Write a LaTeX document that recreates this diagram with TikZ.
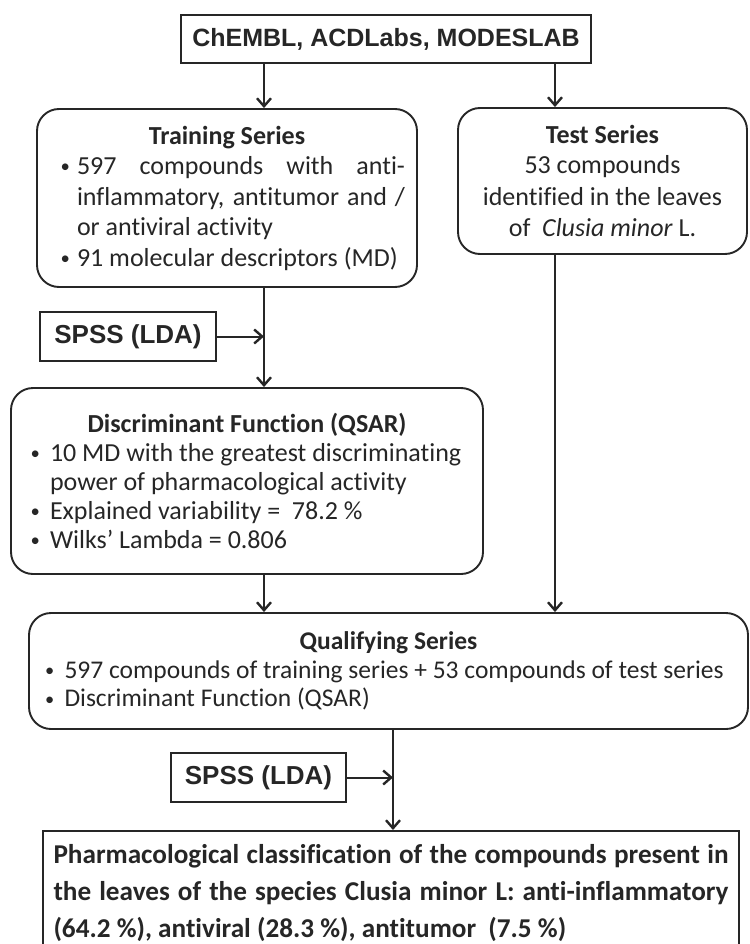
\documentclass[tikz,border=0pt]{standalone}
\usepackage{fontspec}
\usepackage{graphicx}
\setmainfont{Carlito}[Ligatures={NoCommon}]
\newfontfamily\headfont{Liberation Sans}
\usetikzlibrary{arrows.meta}

% bullet paragraph: optional left skip, hanging indent for wrapped lines
\newlength\bulind
\setlength\bulind{20pt}
\newcommand\smallbullet{\hspace{1.5pt}\raisebox{1.6pt}{\scalebox{0.72}{\textbullet}}}
\newcommand\bul[2][0pt]{\par\leftskip=#1\relax\hangindent=\bulind\hangafter=1
  \noindent\makebox[\bulind][l]{\smallbullet}#2\par}

\tikzset{
  ink/.style={draw=black!85, line width=1.9pt},
  sqbox/.style={ink, rectangle, inner sep=0pt, text=black!85},
  rbox/.style={ink, rectangle, rounded corners=22pt, inner sep=0pt, text=black!85},
  head/.style={font=\headfont\bfseries\fontsize{25}{28}\selectfont},
  arr/.style={black!85, line width=2pt, -{Straight Barb[length=8pt,width=14pt,line width=2.4pt]}},
}

\begin{document}
\begin{tikzpicture}[x=1pt, y=-1pt]
\useasboundingbox (0,0) rectangle (749,944);
\clip (0,0) rectangle (749,944);

% sources
\node[sqbox, head, minimum width=410pt, minimum height=48pt] (src) at (386,39)
  {ChEMBL, ACDLabs, MODESLAB};

% training series
\node[rbox, font=\fontsize{26}{30.5}\selectfont, minimum width=380pt, minimum height=178pt, text width=356pt, align=justify] (train) at (227,198) {%
  {\centering\bfseries Training Series\par}
  \setlength\bulind{18pt}%
  \bul[10pt]{597 compounds with anti-\linebreak inflammatory, antitumor and /\linebreak or antiviral activity}
  \bul[10pt]{91 molecular descriptors (MD)}};

% test series
\node[rbox, font=\fontsize{26}{31.5}\selectfont, minimum width=289pt, minimum height=146pt, align=center] (test) at (602.5,181)
  {\textbf{Test Series}\\[-1pt]53 compounds\\identified in the leaves\\of~ \textit{Clusia minor} L.};

% first LDA step
\node[sqbox, font=\headfont\bfseries\fontsize{26}{28}\selectfont, minimum width=176pt, minimum height=49pt] (spss1) at (128,336.5) {SPSS (LDA)};

% discriminant function
\node[rbox, font=\fontsize{26}{29}\selectfont, minimum width=472pt, minimum height=186pt, text width=446pt, align=justify] (disc) at (247,481) {%
  {\centering\bfseries Discriminant Function (QSAR)\par}
  \setlength\bulind{21pt}%
  \bul[5pt]{10 MD with the greatest discriminating\newline power of pharmacological activity}
  \bul[5pt]{Explained variability =~ 78.2~\%}
  \bul[5pt]{Wilks{\char"27} Lambda = 0.806}};

% qualifying series
\node[rbox, font=\fontsize{25.5}{28.5}\selectfont, minimum width=719pt, minimum height=116pt, text width=700pt, align=justify] (qual) at (388.5,671) {%
  {\centering\bfseries Qualifying Series\par}
  \setlength\bulind{21pt}%
  \bul[5pt]{597 compounds of training series + 53 compounds of test series}
  \bul[5pt]{Discriminant Function (QSAR)}};

% second LDA step
\node[sqbox, font=\headfont\bfseries\fontsize{26}{28}\selectfont, minimum width=175pt, minimum height=49pt] (spss2) at (258.5,777.5) {SPSS (LDA)};

% classification result
\node[sqbox, anchor=north, text width=675pt, inner xsep=10.5pt, inner ysep=13pt, align=justify,
      font=\bfseries\fontsize{27.2}{37}\selectfont] (result) at (391,830)
  {Pharmacological classification of the compounds present in\linebreak the leaves of the species Clusia minor L: anti-inflammatory\linebreak (64.2~\%), antiviral (28.3~\%), antitumor~ (7.5~\%)};

% junction points on the flow lines
\coordinate (ja) at (264,336.5);
\coordinate (jb) at (555,253);
\coordinate (jc) at (393,777.5);

% connectors
\draw[arr] (src.south -| ja) -- (train.north -| ja);
\draw[arr] (src.south -| jb) -- (test.north -| jb);
\draw[arr] (train.south -| ja) -- (disc.north -| ja);
\draw[arr] (spss1) -- (ja);
\draw[arr] (disc.south -| ja) -- (qual.north -| ja);
\draw[arr] (test.south -| jb) -- (qual.north -| jb);
\draw[arr] (qual.south -| jc) -- (result.north -| jc);
\draw[arr] (spss2) -- (jc);
\end{tikzpicture}
\end{document}
